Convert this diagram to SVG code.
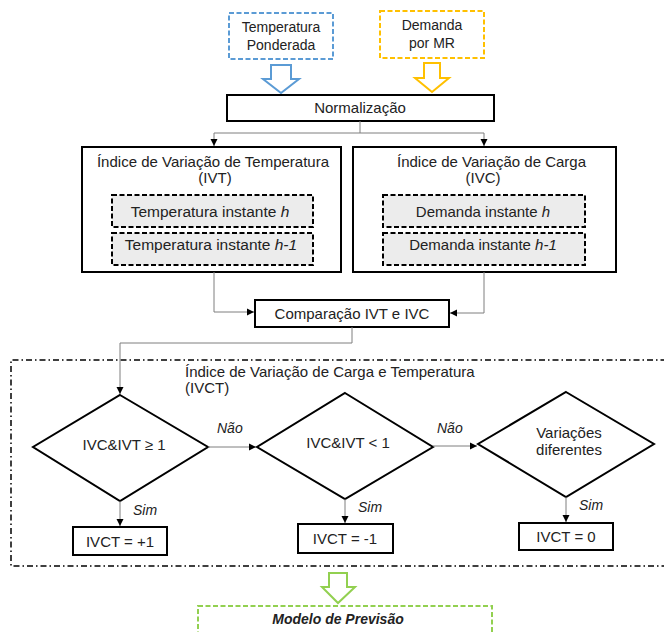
<svg xmlns="http://www.w3.org/2000/svg" width="664" height="632" viewBox="0 0 664 632">
<defs>
<marker id="ah" markerWidth="8" markerHeight="8" refX="7" refY="4" orient="auto" markerUnits="userSpaceOnUse">
<path d="M0,0.5 L7,4 L0,7.5 Z" fill="#000"/>
</marker>
<style>
text{font-family:"Liberation Sans",Arial,sans-serif;font-size:15px;fill:#222}
.c{text-anchor:middle}
.i{font-style:italic}
.box{fill:#fff;stroke:#000;stroke-width:2}
.inner{fill:#ececec;stroke:#000;stroke-width:2;stroke-dasharray:5 2.5}
.dia{fill:#fff;stroke:#000;stroke-width:2}
.con{fill:none;stroke:#7f7f7f;stroke-width:1}
.lbl{font-style:italic;font-size:14px}
</style>
</defs>
<rect width="664" height="632" fill="#fff"/>

<g id="container">
<path d="M680,360 H11 V566 H680" fill="none" stroke="#000" stroke-width="1.5" stroke-dasharray="6 3 1.5 3"/>
<text x="185" y="377">Índice de Variação de Carga e Temperatura</text>
<text x="185" y="393">(IVCT)</text>
</g>

<g id="temp">
<rect x="229" y="13" width="104" height="46" fill="#fff" stroke="#5B9BD5" stroke-width="2" stroke-dasharray="5 2.5"/>
<text class="c" x="281" y="32" style="font-size:14px">Temperatura</text>
<text class="c" x="281" y="50" style="font-size:14px">Ponderada</text>
</g>
<g id="demanda">
<rect x="380" y="11" width="104" height="47" fill="#fff" stroke="#FFC000" stroke-width="2" stroke-dasharray="5 2.5"/>
<text class="c" x="432" y="30" style="font-size:14px">Demanda</text>
<text class="c" x="432" y="48" style="font-size:14px">por MR</text>
</g>
<g id="arrow-blue">
<polygon points="271,65 291,65 291,79 299,79 281,93 263,79 271,79" fill="#fff" stroke="#5B9BD5" stroke-width="2"/>
</g>
<g id="arrow-yellow">
<polygon points="424,63 440,63 440,78 449,78 432,92 415,78 424,78" fill="#fff" stroke="#FFC000" stroke-width="2"/>
</g>

<g id="normalizacao">
<rect class="box" x="227" y="95" width="267" height="26"/>
<text class="c" x="360" y="113">Normalização</text>
</g>

<g id="ivt">
<rect class="box" x="82" y="147" width="259" height="125"/>
<text class="c" x="213" y="167">Índice de Variação de Temperatura</text>
<text class="c" x="215" y="183">(IVT)</text>
<rect class="inner" x="112" y="195" width="201" height="32"/>
<text class="c" x="210" y="217" style="font-size:15.5px">Temperatura instante <tspan class="i">h</tspan></text>
<rect class="inner" x="112" y="233" width="201" height="32"/>
<text class="c" x="211" y="250" style="font-size:15.5px">Temperatura instante <tspan class="i">h-1</tspan></text>
</g>

<g id="ivc">
<rect class="box" x="353" y="147" width="263" height="125"/>
<text x="397" y="167">Índice de Variação de Carga</text>
<text class="c" x="483" y="183">(IVC)</text>
<rect class="inner" x="383" y="195" width="202" height="32"/>
<text class="c" x="483" y="217">Demanda instante <tspan class="i">h</tspan></text>
<rect class="inner" x="383" y="233" width="202" height="32"/>
<text class="c" x="483" y="250">Demanda instante <tspan class="i">h-1</tspan></text>
</g>

<g id="comparacao">
<rect class="box" x="255" y="300" width="194" height="27"/>
<text class="c" x="352" y="319">Comparação IVT e IVC</text>
</g>

<g id="d1">
<polygon class="dia" points="120,395 208,447 120,501 33,447"/>
<text class="c" x="124" y="450">IVC&amp;IVT ≥ 1</text>
</g>
<g id="d2">
<polygon class="dia" points="345,393 433,447 345,499 257,447"/>
<text class="c" x="348" y="448">IVC&amp;IVT &lt; 1</text>
</g>
<g id="d3">
<polygon class="dia" points="566,392 654,444 566,497 478,444"/>
<text class="c" x="569" y="438">Variações</text>
<text class="c" x="569" y="455">diferentes</text>
</g>

<g id="r1">
<rect class="box" x="73" y="527" width="94" height="28"/>
<text class="c" x="120" y="547">IVCT = +1</text>
</g>
<g id="r2">
<rect class="box" x="298" y="524" width="95" height="29"/>
<text class="c" x="345" y="544">IVCT = -1</text>
</g>
<g id="r3">
<rect class="box" x="519" y="523" width="94" height="27"/>
<text class="c" x="566" y="542">IVCT = 0</text>
</g>

<g id="arrow-green">
<polygon points="329,573 347,573 347,587 355,587 338,603 322,587 329,587" fill="#fff" stroke="#92D050" stroke-width="2"/>
</g>
<g id="modelo">
<rect x="198" y="606" width="294" height="40" fill="#fff" stroke="#92D050" stroke-width="2" stroke-dasharray="5 2.5"/>
<text class="c" x="338" y="624" style="font-weight:bold;font-style:italic;font-size:14px">Modelo de Previsão</text>
</g>

<g id="connectors">
<path class="con" d="M360,121 V133"/>
<path class="con" d="M360,133 H214 V146" marker-end="url(#ah)"/>
<path class="con" d="M360,133 H484 V146" marker-end="url(#ah)"/>
<path class="con" d="M214,272 V312 H254" marker-end="url(#ah)"/>
<path class="con" d="M484,272 V313 H450" marker-end="url(#ah)"/>
<path class="con" d="M352,327 V343 H120 V394" marker-end="url(#ah)"/>
<path class="con" d="M208,447 H256" marker-end="url(#ah)"/>
<path class="con" d="M433,446 H477" marker-end="url(#ah)"/>
<path class="con" d="M120,501 V526" marker-end="url(#ah)"/>
<path class="con" d="M345,499 V523" marker-end="url(#ah)"/>
<path class="con" d="M566,497 V522" marker-end="url(#ah)"/>
<text class="lbl" x="217" y="433">Não</text>
<text class="lbl" x="437" y="433">Não</text>
<text class="lbl" x="133" y="515">Sim</text>
<text class="lbl" x="358" y="512">Sim</text>
<text class="lbl" x="579" y="510">Sim</text>
</g>
</svg>
